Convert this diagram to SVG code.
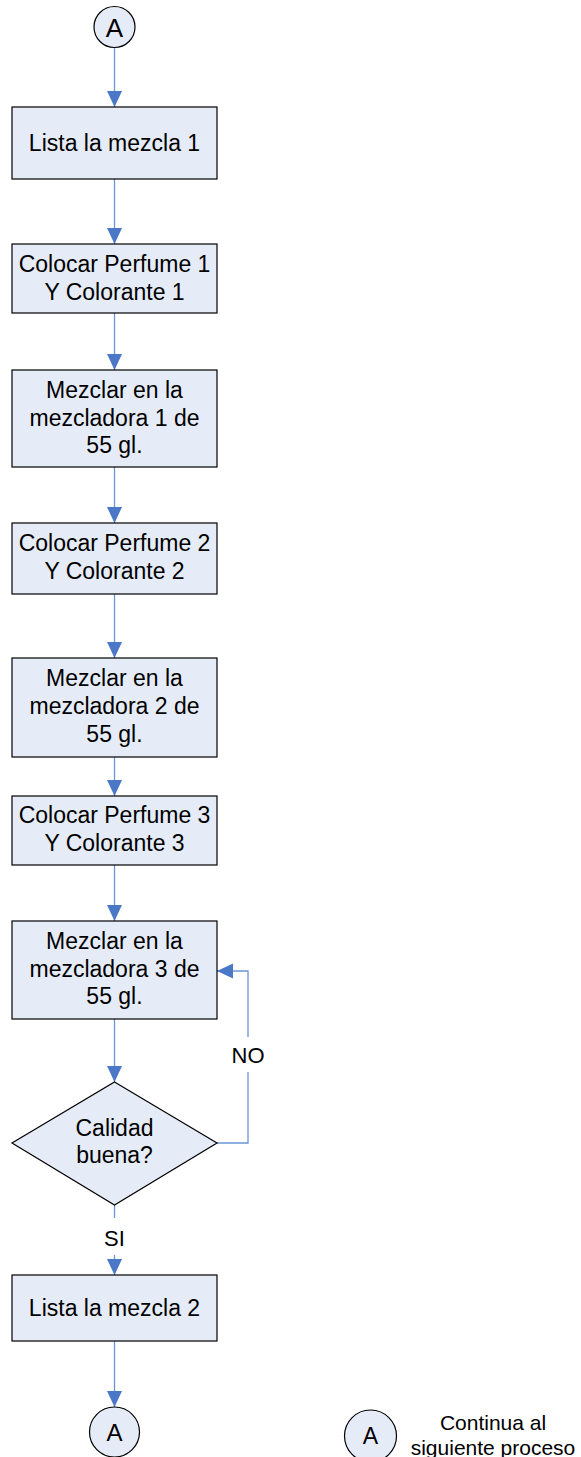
<svg xmlns="http://www.w3.org/2000/svg" width="581" height="1457" viewBox="0 0 581 1457">
<style>
.box{fill:#E6ECF7;stroke:#000;stroke-width:1.2}
.t{font-family:"Liberation Sans",Arial,sans-serif;font-size:23px;fill:#000;text-anchor:middle}
.lbl{font-family:"Liberation Sans",Arial,sans-serif;font-size:22px;fill:#000;text-anchor:middle}
.c{fill:none;stroke:#6A95D6;stroke-width:1.3}
</style>
<defs>
<marker id="ah" markerUnits="userSpaceOnUse" markerWidth="16" markerHeight="16" refX="16" refY="7.5" orient="auto">
<path d="M0,0 L16,7.5 L0,15 z" fill="#4A78C6"/>
</marker>
</defs>
<rect width="581" height="1457" fill="#fff"/>
<g id="connectors">
<line class="c" x1="114.5" y1="48" x2="114.5" y2="107" marker-end="url(#ah)"/>
<line class="c" x1="114.5" y1="179" x2="114.5" y2="244" marker-end="url(#ah)"/>
<line class="c" x1="114.5" y1="313" x2="114.5" y2="370" marker-end="url(#ah)"/>
<line class="c" x1="114.5" y1="467" x2="114.5" y2="523" marker-end="url(#ah)"/>
<line class="c" x1="114.5" y1="594" x2="114.5" y2="658" marker-end="url(#ah)"/>
<line class="c" x1="114.5" y1="757" x2="114.5" y2="796" marker-end="url(#ah)"/>
<line class="c" x1="114.5" y1="865" x2="114.5" y2="921" marker-end="url(#ah)"/>
<line class="c" x1="114.5" y1="1019" x2="114.5" y2="1082" marker-end="url(#ah)"/>
<polyline class="c" points="217,1143 248,1143 248,1072"/>
<polyline class="c" points="248,1037 248,971 217,971" marker-end="url(#ah)"/>
<line class="c" x1="114.5" y1="1205" x2="114.5" y2="1218"/>
<line class="c" x1="114.5" y1="1255" x2="114.5" y2="1275" marker-end="url(#ah)"/>
<line class="c" x1="114.5" y1="1341" x2="114.5" y2="1407" marker-end="url(#ah)"/>
<text class="lbl" x="248" y="1063">NO</text>
<text class="lbl" x="114.5" y="1246">SI</text>
</g>
<g id="startA">
<circle class="box" cx="114.5" cy="27" r="20.5"/>
<text class="t" x="114.5" y="36.5" style="font-size:26px">A</text>
</g>
<g id="n1">
<rect class="box" x="12" y="107" width="205" height="72"/>
<text class="t" x="114.5" y="151">Lista la mezcla 1</text>
</g>
<g id="n2">
<rect class="box" x="12" y="244" width="205" height="69"/>
<text class="t" x="114.5" y="272">Colocar Perfume 1</text>
<text class="t" x="114.5" y="300">Y Colorante 1</text>
</g>
<g id="n3">
<rect class="box" x="12" y="370" width="205" height="97"/>
<text class="t" x="114.5" y="398">Mezclar en la</text>
<text class="t" x="114.5" y="426">mezcladora 1 de</text>
<text class="t" x="114.5" y="453">55 gl.</text>
</g>
<g id="n4">
<rect class="box" x="12" y="523" width="205" height="71"/>
<text class="t" x="114.5" y="551">Colocar Perfume 2</text>
<text class="t" x="114.5" y="579">Y Colorante 2</text>
</g>
<g id="n5">
<rect class="box" x="12" y="658" width="205" height="99"/>
<text class="t" x="114.5" y="686">Mezclar en la</text>
<text class="t" x="114.5" y="714">mezcladora 2 de</text>
<text class="t" x="114.5" y="742">55 gl.</text>
</g>
<g id="n6">
<rect class="box" x="12" y="796" width="205" height="69"/>
<text class="t" x="114.5" y="823">Colocar Perfume 3</text>
<text class="t" x="114.5" y="851">Y Colorante 3</text>
</g>
<g id="n7">
<rect class="box" x="12" y="921" width="205" height="98"/>
<text class="t" x="114.5" y="949">Mezclar en la</text>
<text class="t" x="114.5" y="977">mezcladora 3 de</text>
<text class="t" x="114.5" y="1004">55 gl.</text>
</g>
<g id="decision">
<polygon class="box" points="114.5,1082 217,1143 114.5,1205 12,1143"/>
<text class="t" x="114.5" y="1136">Calidad</text>
<text class="t" x="114.5" y="1163">buena?</text>
</g>
<g id="n8">
<rect class="box" x="12" y="1275" width="205" height="66"/>
<text class="t" x="114.5" y="1316">Lista la mezcla 2</text>
</g>
<g id="endA">
<circle class="box" cx="114.5" cy="1432" r="25"/>
<text class="t" x="114.5" y="1441" style="font-size:24px">A</text>
</g>
<g id="legend">
<circle class="box" cx="370.5" cy="1436" r="26"/>
<text class="t" x="370.5" y="1444" style="font-size:23px">A</text>
<text class="lbl" x="493" y="1430" style="font-size:21px">Continua al</text>
<text class="lbl" x="493" y="1455" style="font-size:21px">siguiente proceso</text>
</g>
</svg>
